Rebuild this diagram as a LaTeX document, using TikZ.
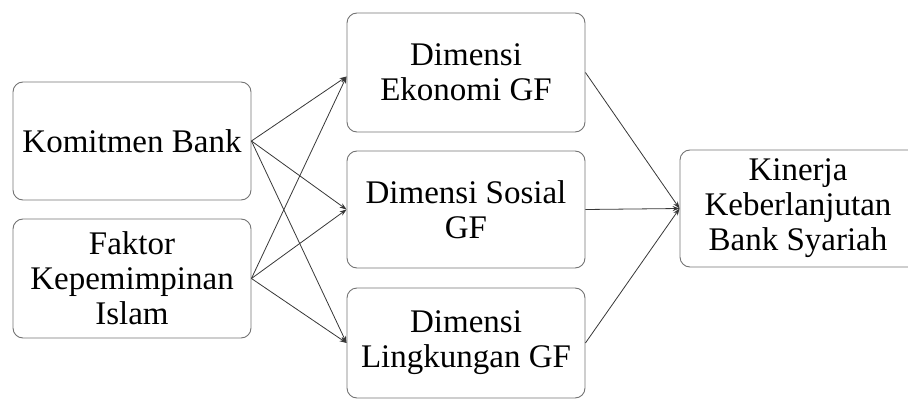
\documentclass[tikz,border=0pt]{standalone}
\usepackage{fontspec}
\setmainfont{Liberation Serif}
\usetikzlibrary{arrows.meta}
\definecolor{boxline}{RGB}{115,115,115}
\definecolor{linkline}{RGB}{55,55,55}
\begin{document}
\begin{tikzpicture}[x=1pt,y=1pt,
  box/.style={draw=boxline, line width=0.9pt, rounded corners=10pt,
    minimum width=238pt, align=center, inner sep=0pt,
    font=\fontsize{33}{35}\selectfont},
  link/.style={draw=linkline, line width=0.8pt,
    -{Stealth[length=7pt,width=5pt]}}]
\useasboundingbox (0,0) rectangle (908,400);
% source factors
\node[box, minimum height=118pt] (kb) at (132,259) {Komitmen Bank};
\node[box, minimum height=119pt] (fk) at (132,121.5) {Faktor\\Kepemimpinan\\Islam};
% green finance dimensions
\node[box, minimum height=119pt] (eko) at (466,327.5) {Dimensi\\Ekonomi GF};
\node[box, minimum height=117pt] (sos) at (466,190.5) {Dimensi Sosial\\GF};
\node[box, minimum height=110pt] (lin) at (466,57) {Dimensi\\Lingkungan GF};
% outcome (runs past the right margin)
\node[box, minimum width=250pt, minimum height=117pt] (kin) at (805,191.5) {};
\node[font=\fontsize{33}{35}\selectfont, align=center, inner sep=0pt] (kintxt) at (798,191.5) {Kinerja\\Keberlanjutan\\Bank Syariah};
% links from factors to dimensions
\draw[link] (kb.east) -- ([yshift=-4pt]eko.west);
\draw[link] (kb.east) -- (sos.west);
\draw[link] (kb.east) -- (lin.west);
\draw[link] (fk.east) -- ([yshift=-4pt]eko.west);
\draw[link] (fk.east) -- (sos.west);
\draw[link] (fk.east) -- (lin.west);
% links from dimensions to performance
\draw[link] (eko.east) -- (kin.west);
\draw[link] (sos.east) -- (kin.west);
\draw[link] (lin.east) -- (kin.west);
\end{tikzpicture}
\end{document}
